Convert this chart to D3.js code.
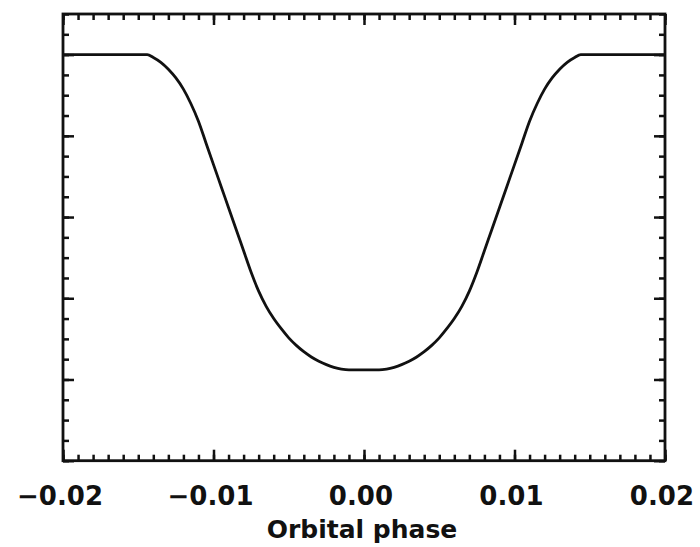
<!DOCTYPE html>
<html lang="en">
<head>
<meta charset="utf-8">
<title>Transit light curve</title>
<script src="https://cdnjs.cloudflare.com/ajax/libs/d3/7.8.5/d3.min.js"></script>
<style>
  body { margin: 0; background: #fff; }
  svg { display: block; }
  .lbl { font-family: "DejaVu Sans", sans-serif; font-weight: bold; fill: #111; }
</style>
</head>
<body>
<div id="plot"></div>
<script>
// values (phase, relative flux)
var phase = [-0.0200, -0.0144, -0.0140, -0.0135, -0.0130, -0.0125, -0.0120, -0.0115,
             -0.0110, -0.0105, -0.0100, -0.0095, -0.0090, -0.0085, -0.0080, -0.0075,
             -0.0070, -0.0065, -0.0060, -0.0055, -0.0050, -0.0045, -0.0040, -0.0035,
             -0.0030, -0.0025, -0.0020, -0.0015, -0.0010, 0.0000,
             0.0010, 0.0015, 0.0020, 0.0025, 0.0030, 0.0035, 0.0040, 0.0045,
             0.0050, 0.0055, 0.0060, 0.0065, 0.0070, 0.0075, 0.0080, 0.0085,
             0.0090, 0.0095, 0.0100, 0.0105, 0.0110, 0.0115, 0.0120, 0.0125,
             0.0130, 0.0135, 0.0140, 0.0144, 0.0200];
var flux = [1.00000, 1.00000, 0.99986, 0.99962, 0.99928, 0.99885, 0.99830, 0.99758,
            0.99672, 0.99565, 0.99458, 0.99352, 0.99246, 0.99140, 0.99034, 0.98928,
            0.98835, 0.98760, 0.98700, 0.98650, 0.98605, 0.98568, 0.98537, 0.98511,
            0.98490, 0.98473, 0.98460, 0.98451, 0.98447, 0.98447,
            0.98447, 0.98451, 0.98460, 0.98473, 0.98490, 0.98511, 0.98537, 0.98568,
            0.98605, 0.98650, 0.98700, 0.98760, 0.98835, 0.98928, 0.99034, 0.99140,
            0.99246, 0.99352, 0.99458, 0.99565, 0.99672, 0.99758, 0.99830, 0.99885,
            0.99928, 0.99962, 0.99986, 1.00000, 1.00000];
var xTicks = [-0.02, -0.01, 0.00, 0.01, 0.02];
var xLabels = ["\u22120.02", "\u22120.01", "0.00", "0.01", "0.02"];
var yTicks = [0.980, 0.984, 0.988, 0.992, 0.996, 1.000];
var xTitle = "Orbital phase";

var width = 700, height = 547;
var mLeft = 63, mRight = 665, mTop = 14, mBottom = 460.7;

var x = d3.scaleLinear().domain([-0.02, 0.02]).range([mLeft, mRight]);
var y = d3.scaleLinear().domain([0.980, 1.002]).range([mBottom, mTop]);

var svg = d3.select("#plot").append("svg")
    .attr("width", width).attr("height", height);

var xMinor = d3.range(-20, 21).map(function(i){ return i / 1000; });
var yMinor = d3.range(980, 1003).map(function(i){ return i / 1000; });

function styleAxis(g) {
  g.select(".domain").remove();
  g.selectAll("line").attr("stroke", "#111").attr("stroke-width", 2.5);
  g.selectAll("text").remove();
}

// ticks point inward on all four sides
[[d3.axisBottom, mBottom], [d3.axisTop, mTop]].forEach(function(a){
  svg.append("g").attr("transform", "translate(0," + a[1] + ")")
    .call(a[0](x).tickValues(xMinor).tickSize(-6)).call(styleAxis);
  svg.append("g").attr("transform", "translate(0," + a[1] + ")")
    .call(a[0](x).tickValues(xTicks).tickSize(-11)).call(styleAxis);
});
[[d3.axisLeft, mLeft], [d3.axisRight, mRight]].forEach(function(a){
  svg.append("g").attr("transform", "translate(" + a[1] + ",0)")
    .call(a[0](y).tickValues(yMinor).tickSize(-6)).call(styleAxis);
  svg.append("g").attr("transform", "translate(" + a[1] + ",0)")
    .call(a[0](y).tickValues(yTicks).tickSize(-11)).call(styleAxis);
});

svg.append("rect")
  .attr("x", mLeft).attr("y", mTop)
  .attr("width", mRight - mLeft).attr("height", mBottom - mTop)
  .attr("fill", "none").attr("stroke", "#111").attr("stroke-width", 2.8);

// tick labels
svg.selectAll(".xl").data(xTicks).enter().append("text")
  .attr("class", "lbl")
  .attr("x", function(d){ return x(d) + (d < 0 ? 40 : 29); })
  .attr("y", 505)
  .attr("text-anchor", "end")
  .style("font-size", "26px")
  .text(function(d, i){ return xLabels[i]; });

svg.append("text")
  .attr("class", "lbl")
  .attr("x", 362).attr("y", 538)
  .attr("text-anchor", "middle")
  .style("font-size", "25px")
  .text(xTitle);

// light curve
var pts = phase.map(function(p, i){ return [p, flux[i]]; });
var line = d3.line()
  .x(function(d){ return x(d[0]); })
  .y(function(d){ return y(d[1]); })
  .curve(d3.curveMonotoneX);

svg.append("path")
  .datum(pts)
  .attr("d", line)
  .attr("fill", "none")
  .attr("stroke", "#111")
  .attr("stroke-width", 2.8)
  .attr("stroke-linejoin", "round");
</script>
</body>
</html>
